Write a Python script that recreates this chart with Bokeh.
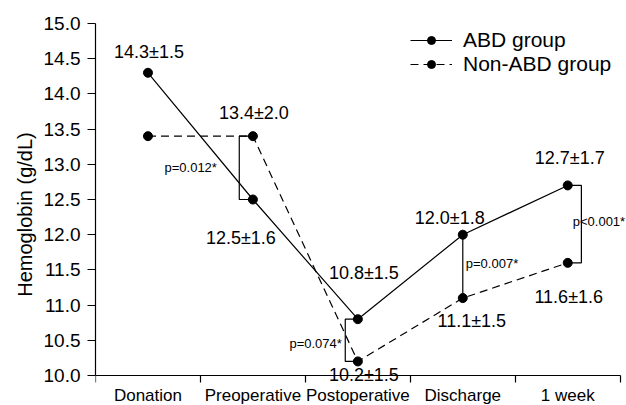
from bokeh.plotting import figure
from bokeh.models import (FixedTicker, Legend, LegendItem,
                          PrintfTickFormatter, Range1d, Label)
from bokeh.embed import file_html
from bokeh.resources import INLINE

# ---------------- data ----------------
categories = ["Donation", "Preoperative", "Postoperative", "Discharge", "1 week"]
abd_mean = [14.3, 12.5, 10.8, 12.0, 12.7]
abd_sd = [1.5, 1.6, 1.5, 1.8, 1.7]
non_mean = [13.4, 13.4, 10.2, 11.1, 11.6]
non_sd = [None, 2.0, 1.5, 1.5, 1.6]
p_values = ["", "p=0.012*", "p=0.074*", "p=0.007*", "p<0.001*"]
y_ticks = [10.0, 10.5, 11.0, 11.5, 12.0, 12.5, 13.0, 13.5, 14.0, 14.5, 15.0]
series_names = ["ABD group", "Non-ABD group"]

# ---------------- styles ----------------
FONT = "Liberation Sans"
x = [i + 1 for i in range(len(categories))]
boundaries = [v - 0.5 for v in x] + [x[-1] + 0.5]

# label offsets in screen px (dx right, dy down)
abd_off = [(1, -21), (-12, 38), (6, -46), (-13, -17), (2, -27)]
non_off = [(0, 0), (1, -23), (6, 14), (9, 23), (1, 34)]
# bracket side offset (data units) and p-label offsets
bracket_off = [None, -0.13, -0.12, 0.0, 0.13]
p_off = [None, (-36, 0), (-16, 3), (3, -3), (5, -3)]

# frame extends below the x axis so labels overlapping the axis are not clipped
p = figure(width=626, height=405,
           x_range=Range1d(boundaries[0], boundaries[-1] + 0.06),
           y_range=Range1d(y_ticks[0] - 0.426, y_ticks[-1]),
           output_backend="svg", toolbar_location=None,
           min_border_left=95, min_border_right=0,
           min_border_top=23, min_border_bottom=0)
p.background_fill_color = "white"
p.border_fill_color = "white"
p.outline_line_color = None
p.xgrid.visible = False
p.ygrid.visible = False

# x axis: drawn at y = 10.0, ticks at boundaries (minor), labels at centres
xa = p.xaxis[0]
xa.fixed_location = y_ticks[0]
xa.bounds = (boundaries[0], boundaries[-1])
xa.ticker = FixedTicker(ticks=x, minor_ticks=boundaries)
xa.major_label_overrides = {v: c for v, c in zip(x, categories)}
xa.major_tick_line_color = None
xa.minor_tick_line_color = "black"
xa.minor_tick_out = 7
xa.minor_tick_in = 0
xa.minor_tick_line_width = 1.2
xa.axis_line_width = 1.2
xa.axis_line_color = "black"
xa.major_label_standoff = 3
xa.major_label_text_font = FONT
xa.major_label_text_font_size = "17px"
xa.major_label_text_color = "black"

ya = p.yaxis[0]
ya.bounds = (y_ticks[0], y_ticks[-1])
ya.ticker = FixedTicker(ticks=y_ticks, minor_ticks=[])
ya.formatter = PrintfTickFormatter(format="%.1f")
ya.major_tick_out = 8
ya.major_tick_in = 0
ya.major_tick_line_width = 1.2
ya.minor_tick_line_color = None
ya.axis_line_width = 1.2
ya.axis_line_color = "black"
ya.major_label_standoff = 7
ya.major_label_text_font = FONT
ya.major_label_text_font_size = "19px"
ya.major_label_text_color = "black"
ya.axis_label = "Hemoglobin (g/dL)"
ya.axis_label_text_font = FONT
ya.axis_label_text_font_size = "20px"
ya.axis_label_text_font_style = "normal"
ya.axis_label_text_color = "black"
ya.axis_label_standoff = 5

# brackets (drawn first so points sit above)
bxs, bys = [], []
for i, off in enumerate(bracket_off):
    if off is None:
        continue
    xb = x[i] + off
    if off == 0:
        bxs.append([x[i], x[i]])
        bys.append([abd_mean[i], non_mean[i]])
    else:
        bxs.append([x[i], xb, xb, x[i]])
        bys.append([abd_mean[i], abd_mean[i], non_mean[i], non_mean[i]])
p.multi_line(bxs, bys, line_color="black", line_width=1.2)

# series
l1 = p.line(x, abd_mean, line_color="black", line_width=1.2)
c1 = p.scatter(x, abd_mean, size=9, fill_color="black", line_color="black")
l2 = p.line(x, non_mean, line_color="black", line_width=1.2, line_dash="8 5")
c2 = p.scatter(x, non_mean, size=9, fill_color="black", line_color="black")

# value labels
def fmt(m, s):
    return "" if s is None else f"{m:.1f}\u00b1{s:.1f}"

for means, sds, offs in ((abd_mean, abd_sd, abd_off), (non_mean, non_sd, non_off)):
    for i in range(len(x)):
        t = fmt(means[i], sds[i])
        if not t:
            continue
        p.add_layout(Label(x=x[i], y=means[i], text=t,
                           x_offset=offs[i][0], y_offset=-offs[i][1],
                           text_align="center", text_baseline="middle",
                           text_font=FONT, text_font_size="18px",
                           text_color="black"))

# p-value labels
for i, off in enumerate(bracket_off):
    if off is None:
        continue
    align = "right" if off < 0 else "left"
    p.add_layout(Label(x=x[i], y=(abd_mean[i] + non_mean[i]) / 2, text=p_values[i],
                       x_offset=p_off[i][0], y_offset=-p_off[i][1],
                       text_align=align, text_baseline="middle",
                       text_font=FONT, text_font_size="13px",
                       text_color="black"))

legend = Legend(items=[LegendItem(label=series_names[0], renderers=[l1, c1]),
                       LegendItem(label=series_names[1], renderers=[l2, c2])],
                location=(315, 329))
legend.border_line_color = None
legend.background_fill_alpha = 0
legend.padding = 0
legend.margin = 0
legend.spacing = -1
legend.glyph_width = 42
legend.glyph_height = 20
legend.label_height = 20
legend.label_standoff = 11
legend.label_text_font = FONT
legend.label_text_font_size = "21px"
legend.label_text_color = "black"
p.add_layout(legend)

open("out.html", "w").write(file_html(p, INLINE))
